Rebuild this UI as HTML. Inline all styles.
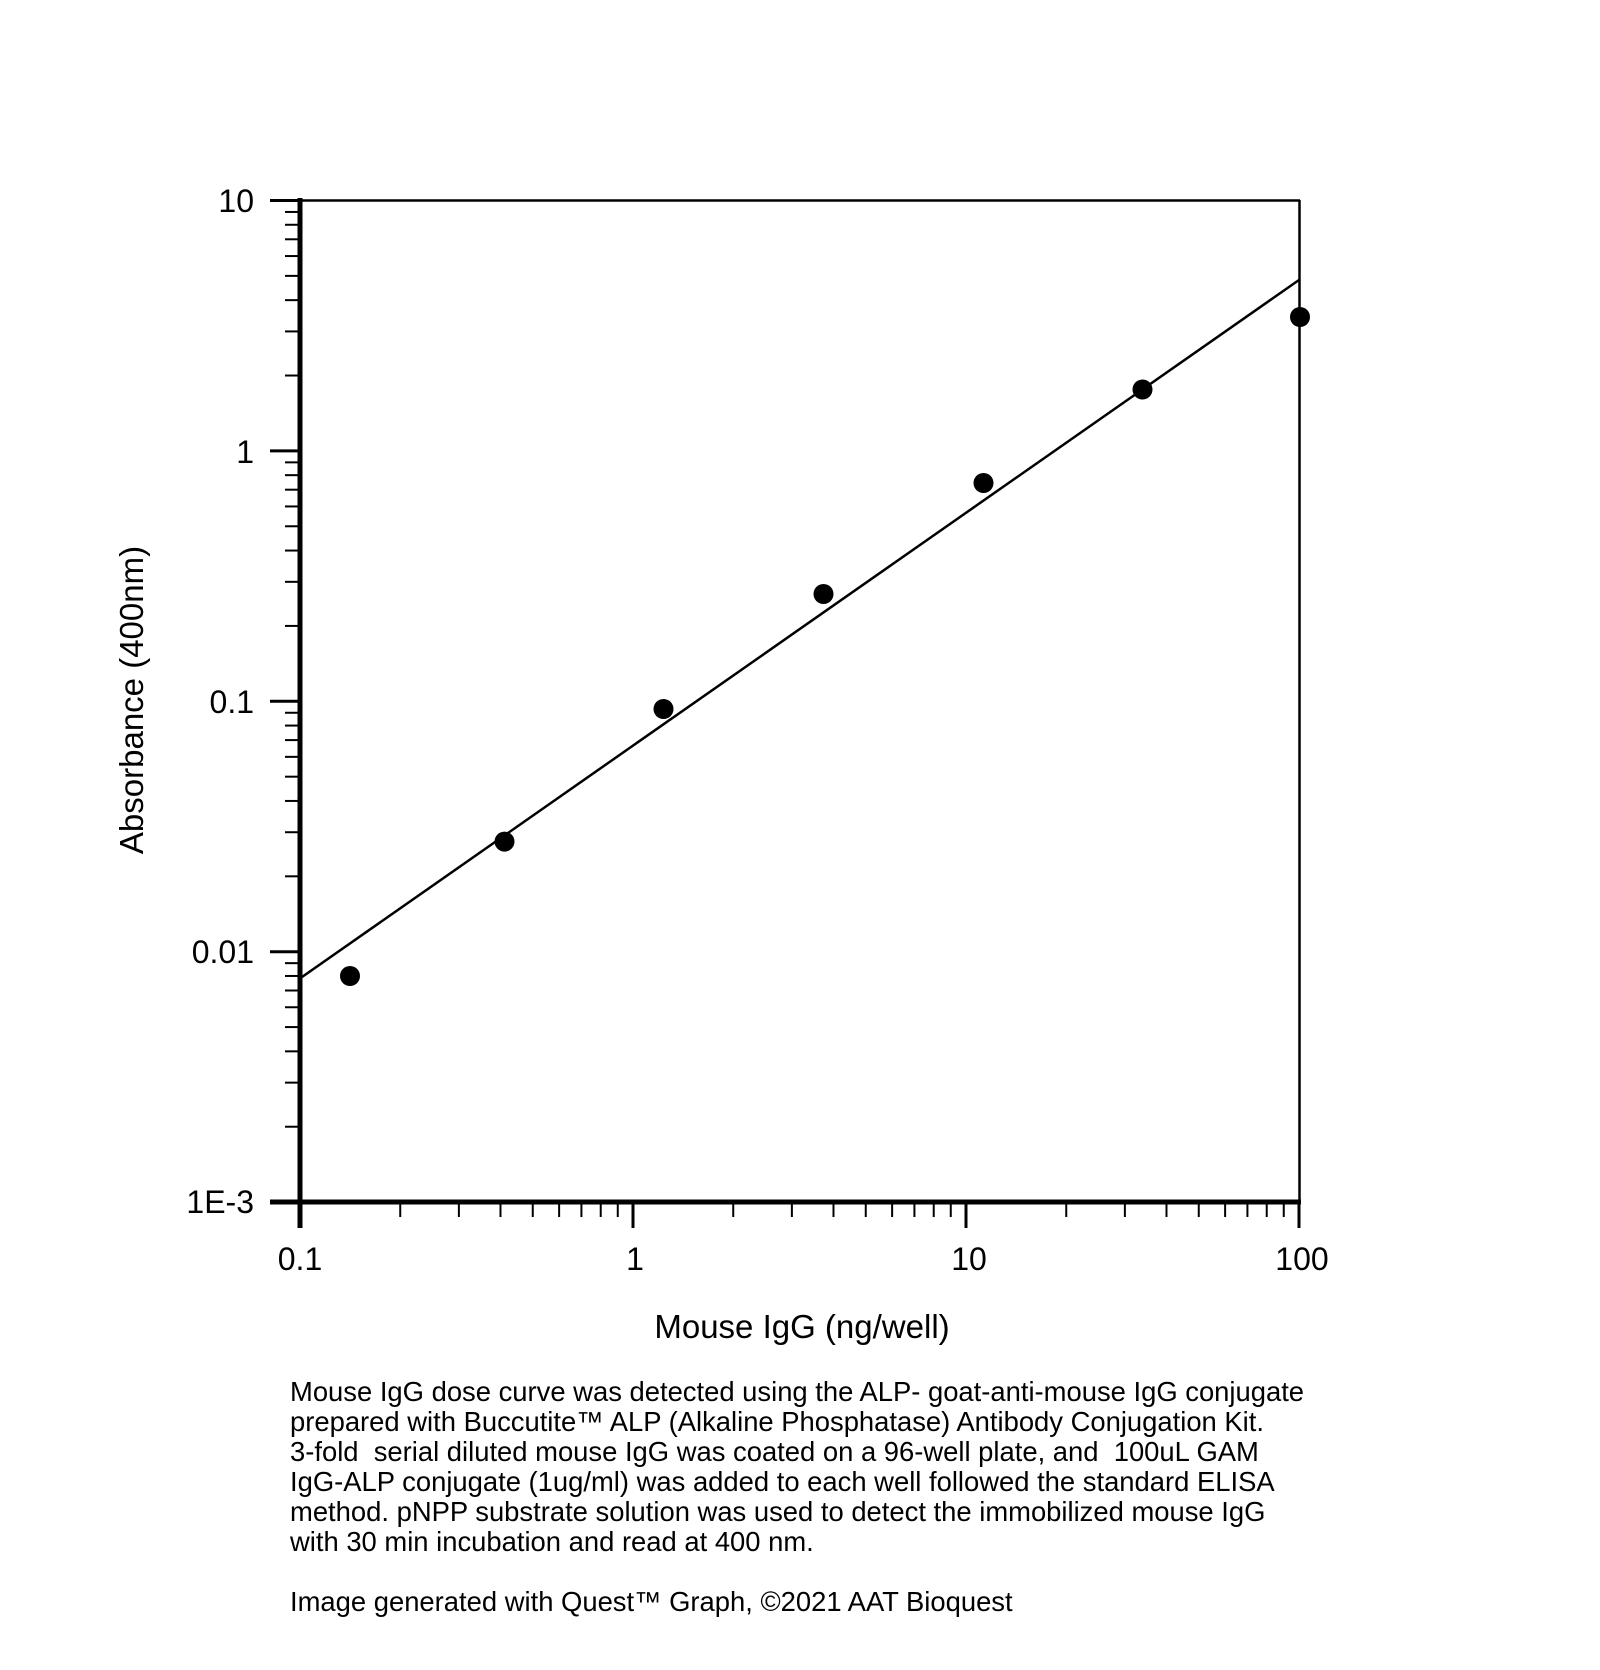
<!DOCTYPE html>
<html><head><meta charset="utf-8"><style>
html,body{margin:0;padding:0;background:#fff;}
svg{display:block;font-family:"Liberation Sans",Arial,sans-serif;}
</style></head><body>
<svg id="s" width="1600" height="1670" xmlns="http://www.w3.org/2000/svg">
<rect width="1600" height="1670" fill="#fff"/>
<g id="g"></g>
<text x="254" y="212" font-size="32" text-anchor="end">10</text>
<text x="254" y="463" font-size="32" text-anchor="end">1</text>
<text x="254" y="713" font-size="32" text-anchor="end">0.1</text>
<text x="254" y="963" font-size="32" text-anchor="end">0.01</text>
<text x="254" y="1213" font-size="32" text-anchor="end">1E-3</text>
<text x="300" y="1270" font-size="32" text-anchor="middle">0.1</text>
<text x="635" y="1270" font-size="32" text-anchor="middle">1</text>
<text x="969" y="1270" font-size="32" text-anchor="middle">10</text>
<text x="1302" y="1270" font-size="32" text-anchor="middle">100</text>
<text x="802" y="1338" font-size="33" text-anchor="middle">Mouse IgG (ng/well)</text>
<text transform="translate(143,700) rotate(-90)" font-size="33" text-anchor="middle">Absorbance (400nm)</text>
<g font-size="27.4">
<text x="290" y="1401">Mouse IgG dose curve was detected using the ALP- goat-anti-mouse IgG conjugate</text>
<text x="290" y="1431">prepared with Buccutite™ ALP (Alkaline Phosphatase) Antibody Conjugation Kit.</text>
<text x="290" y="1461" xml:space="preserve">3-fold  serial diluted mouse IgG was coated on a 96-well plate, and  100uL GAM</text>
<text x="290" y="1491">IgG-ALP conjugate (1ug/ml) was added to each well followed the standard ELISA</text>
<text x="290" y="1521">method. pNPP substrate solution was used to detect the immobilized mouse IgG</text>
<text x="290" y="1551">with 30 min incubation and read at 400 nm.</text>
<text x="290" y="1611">Image generated with Quest™ Graph, ©2021 AAT Bioquest</text>
</g>
</svg>
<script>
var g=document.getElementById('g'),h='';
function X(v){return 300+333*(Math.log10(v)+1);}
function Y(v){return 200.5+250.4*(1-Math.log10(v));}
function L(a,b,c,d,w){h+='<line x1="'+a+'" y1="'+b+'" x2="'+c+'" y2="'+d+'" stroke="#000" stroke-width="'+w+'"/>';}
L(300,200.5,1300,200.5,2.5);L(1299.5,200,1299.5,1202,2.5);
L(300,198,300,1228,5);L(270,1202,1301,1202,5);
for(var e=-1;e<2;e++)for(var m=1;m<10;m++){var v=m*Math.pow(10,e),x=X(v);if(m==1)L(x,1202,x,1228,3);else L(x,1202,x,1217,2);}
L(1299,1202,1299,1228,3);
for(var e=-3;e<1;e++)for(var m=1;m<10;m++){var v=m*Math.pow(10,e),y=Y(v);if(m==1)L(270,y,300,y,3);else L(285,y,300,y,2);}
L(270,200.5,300,200.5,3);
L(302,977,1299,280,2.5);
var pts=[[350,976],[504.5,841.6],[663.5,709],[823.5,594],[983.5,483],[1142.5,389.5],[1300,317]];
pts.forEach(function(p){h+='<circle cx="'+p[0]+'" cy="'+p[1]+'" r="10" fill="#000"/>';});
g.innerHTML=h;
</script>
</body></html>
